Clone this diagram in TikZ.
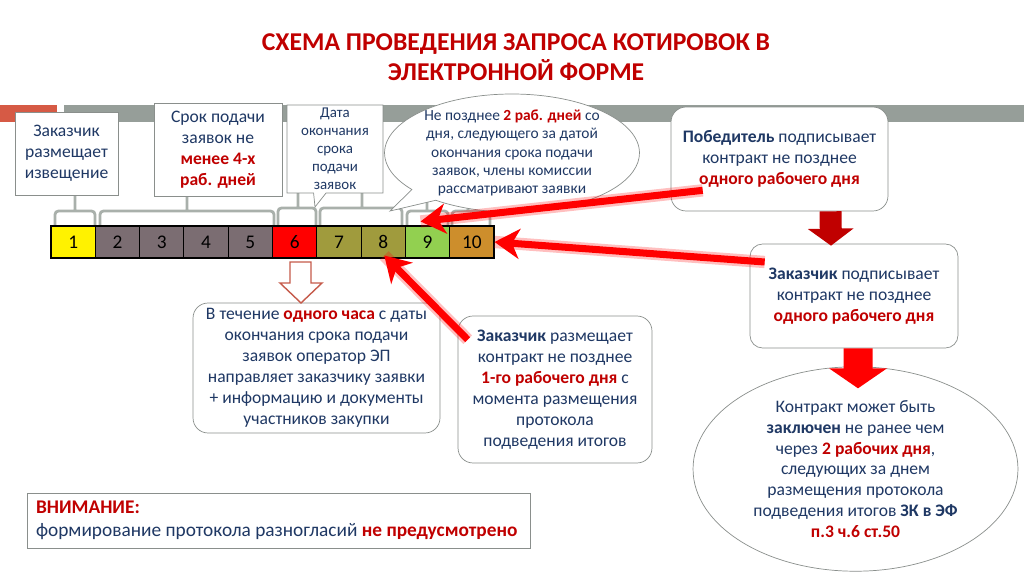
\documentclass[tikz,border=0pt]{standalone}
\usepackage{fontspec}
\setmainfont{Carlito}
\usetikzlibrary{positioning,shapes.geometric,shapes.callouts,arrows.meta,calc}
\definecolor{navy}{HTML}{1F3864}
\definecolor{darkred}{HTML}{C00000}
\definecolor{framegray}{HTML}{8A8F8C}
\definecolor{bracegray}{HTML}{A9B0AB}
\definecolor{bargray}{HTML}{969E99}
\definecolor{stripred}{HTML}{D65A45}
\definecolor{cellmauve}{HTML}{7B6D72}
\definecolor{cellolive}{HTML}{A09B3D}
\definecolor{cellgreen}{HTML}{92D050}
\definecolor{cellochre}{HTML}{CD8E2C}
\definecolor{hollowred}{HTML}{C55A4A}
\newcommand{\redbf}[1]{\textbf{\textcolor{darkred}{#1}}}
\tikzset{
  note/.style={draw=framegray, fill=white, align=center, text=navy, inner sep=2pt},
  softnote/.style={note, rounded corners=3mm},
  daycell/.style={draw=black, line width=0.6pt, minimum width=8.86mm, minimum height=6.4mm, inner sep=0pt, font=\fontsize{11}{13}\selectfont},
  brace/.style={draw=bracegray, line width=1.6pt, rounded corners=2pt},
  hint/.style={-{Stealth[length=5mm, width=6mm, inset=1.5mm]}, red, line width=4pt,
               preaction={draw=red, draw opacity=0.25, line width=7pt, -}}
}

\begin{document}
\begin{tikzpicture}[x=0.02cm, y=-0.02cm, font=\fontsize{10}{11.9}\selectfont]
  \useasboundingbox (0,0) rectangle (1024,574);

  \node[align=center, text=darkred, font=\fontsize{14.6}{17.2}\selectfont\bfseries] (head) at (516,57)
    {СХЕМА ПРОВЕДЕНИЯ ЗАПРОСА КОТИРОВОК В\\ЭЛЕКТРОННОЙ ФОРМЕ};

  % strip under the heading
  \fill[stripred] (0,105) rectangle (57,122);
  \fill[bargray] (64,105) rectangle (1024,122);

  % braces over the days
  \draw[brace] (55,225) |- (95,211) -- (95,225) (75,211) -- (75,190);
  \draw[brace] (100,225) |- (274,211) -- (274,225) (187,211) -- (187,190);
  \draw[brace] (278,225) |- (316,208) -- (316,225) (298,208) -- (298,190);
  \draw[brace] (320,225) |- (402,208) -- (402,225) (362,208) -- (362,190);
  \draw[brace] (407,225) |- (448,211) -- (448,225) (427,211) -- (427,195);
  \draw[brace] (452,225) |- (490,211) -- (490,225) (468,211) -- (468,195);

  % days
  \foreach \n/\col in {1/yellow,2/cellmauve,3/cellmauve,4/cellmauve,5/cellmauve,6/red,7/cellolive,8/cellolive,9/cellgreen,10/cellochre}
    \node[daycell, fill=\col] (c\n) at ({51+44.3*(\n-0.5)},242) {\n};

  \node[note, minimum width=2.06cm, minimum height=1.66cm] (notice) at (66.5,153.5)
    {Заказчик\\размещает\\извещение};
  \node[note, minimum width=2.56cm, minimum height=1.86cm] (term) at (218,149.5)
    {Срок подачи\\заявок не\\\redbf{менее 4-х}\\\redbf{раб. дней}};
  \node[note, rectangle callout, callout absolute pointer={(315,207)}, inner sep=1pt,
        minimum width=1.92cm, minimum height=1.76cm, font=\fontsize{8.5}{10.2}\selectfont] (deadline) at (335,149)
    {Дата\\окончания\\срока\\подачи\\заявок};
  \node[draw=framegray, fill=white, ellipse callout, callout absolute pointer={(390,211)},
        minimum width=5.1cm, minimum height=2.36cm] (review) at (512,153) {};
  \node[align=center, text=navy, font=\fontsize{8.8}{10.3}\selectfont] (reviewText) at (512,153)
    {Не позднее \redbf{2 раб. дней} со\\дня, следующего за датой\\окончания срока подачи\\заявок, члены комиссии\\рассматривают заявки};

  \node[softnote, minimum width=4.34cm, minimum height=2.08cm] (winner) at (779.5,159)
    {\textbf{Победитель} подписывает\\контракт не позднее\\\redbf{одного рабочего дня}};
  \node[softnote, rounded corners=2.5mm, minimum width=4.16cm, minimum height=2.08cm] (custSign) at (854,296)
    {\textbf{Заказчик} подписывает\\контракт не позднее\\\redbf{одного рабочего дня}};
  \node[note, ellipse, minimum width=6.5cm, minimum height=3.96cm] (contract) at (855.5,469)
    {Контракт может быть\\\textbf{заключен} не ранее чем\\через \redbf{2 рабочих дня},\\следующих за днем\\размещения протокола\\подведения итогов \textbf{ЗК в ЭФ}\\\redbf{п.3 ч.6 ст.50}};

  \node[softnote, minimum width=4.94cm, minimum height=2.6cm] (operator) at (316.5,368)
    {В течение \redbf{одного часа} с даты\\окончания срока подачи\\заявок оператор ЭП\\направляет заказчику заявки\\+ информацию и документы\\участников закупки};
  \node[softnote, minimum width=3.88cm, minimum height=2.94cm] (publish) at (555,389.5)
    {\textbf{Заказчик} размещает\\контракт не позднее\\\redbf{1-го рабочего дня} с\\момента размещения\\протокола\\подведения итогов};

  \node[note, align=flush left, minimum height=1.1cm, text width=9.7cm, inner xsep=0.18cm,
        font=\fontsize{11}{12.8}\selectfont] (warn) at (278.5,520.5)
    {\redbf{ВНИМАНИЕ:}\\формирование протокола разногласий \redbf{не предусмотрено}};

  % hollow arrow under day 6
  \draw[hollowred, fill=white, line width=0.8pt] (290,262) -- (311,262) -- (311,283) -- (322,283)
    -- (301,303) -- (280,283) -- (290,283) -- cycle;

  % block arrows on the right
  \draw[darkred, line width=0.44cm, -{Triangle[length=0.34cm, width=0.9cm]}]
    ([xshift=1.02cm]winner.south) -- ([xshift=-0.46cm, yshift=-0.04cm]custSign.north);
  \draw[red, line width=0.58cm, -{Triangle[length=0.4cm, width=1.14cm]}]
    ([xshift=0.08cm]custSign.south) -- ($(custSign.south)+(4,40)$);

  % red pointers
  \draw[hint] ($(winner.south west)+(32,-21)$) -- ($(c9.north)+(-7,-4)$);
  \draw[hint] ($(custSign.west)+(15,-34)$) -- (c10.east);
  \draw[hint] ($(publish.north west)+(10,24)$) -- ($(c8.south)+(1,-3)$);
\end{tikzpicture}
\end{document}
